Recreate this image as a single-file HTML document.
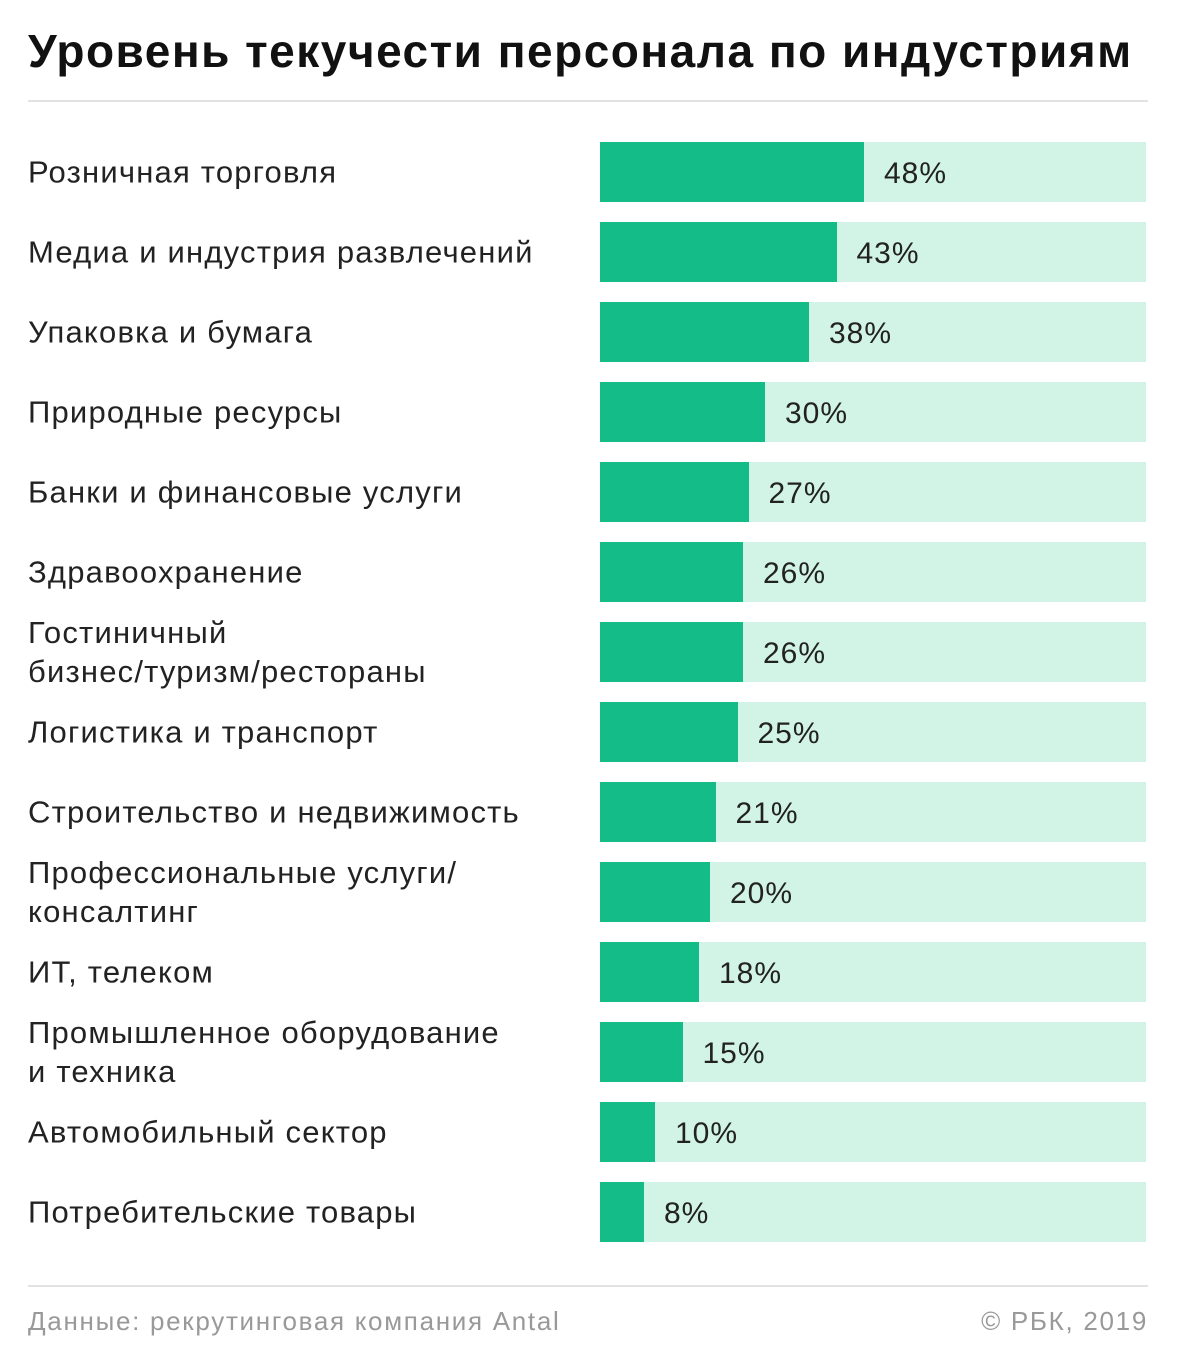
<!DOCTYPE html>
<html><head><meta charset="utf-8"><style>
body{margin:0;width:1180px;height:1360px;background:#fff;font-family:"Liberation Sans",sans-serif;color:#222;position:relative;overflow:hidden}
.t{position:absolute;left:28px;top:24px;font-size:46px;font-weight:bold;letter-spacing:1.5px;color:#111}
.hr{position:absolute;left:28px;width:1120px;height:2px;background:#e2e2e2}
.row{position:absolute;left:0;width:1180px;height:60px}
.lab{position:absolute;left:28px;top:50%;transform:translateY(-50%);font-size:31px;line-height:39px;color:#222;letter-spacing:1.2px;white-space:nowrap}
.bg{position:absolute;left:600px;top:0;width:546px;height:60px;background:#d2f4e6}
.fg{position:absolute;left:600px;top:0;height:60px;background:#14bd88}
.v{position:absolute;top:0;line-height:64px;font-size:30px;color:#222;letter-spacing:1px}
.f{position:absolute;top:1306px;font-size:26px;color:#999;letter-spacing:1.7px}
</style></head><body>
<div class="t">Уровень текучести персонала по индустриям</div>
<div class="hr" style="top:100px"></div>
<div class="hr" style="top:1285px"></div>
<div id="c"></div>
<div class="f" style="left:28px">Данные: рекрутинговая компания Antal</div>
<div class="f" style="right:32px">© РБК, 2019</div>
<script>
var d=[["Розничная торговля",48],["Медиа и индустрия развлечений",43],["Упаковка и бумага",38],["Природные ресурсы",30],["Банки и финансовые услуги",27],["Здравоохранение",26],["Гостиничный<br>бизнес/туризм/рестораны",26],["Логистика и транспорт",25],["Строительство и недвижимость",21],["Профессиональные услуги/<br>консалтинг",20],["ИТ, телеком",18],["Промышленное оборудование<br>и техника",15],["Автомобильный сектор",10],["Потребительские товары",8]];
var h="";d.forEach(function(r,i){var w=r[1]*5.5;h+='<div class="row" style="top:'+(142+80*i)+'px"><div class="lab">'+r[0]+'</div><div class="bg"></div><div class="fg" style="width:'+w+'px"></div><div class="v" style="left:'+(600+w+20)+'px">'+r[1]+'%</div></div>';});
document.getElementById("c").innerHTML=h;
</script>
</body></html>
